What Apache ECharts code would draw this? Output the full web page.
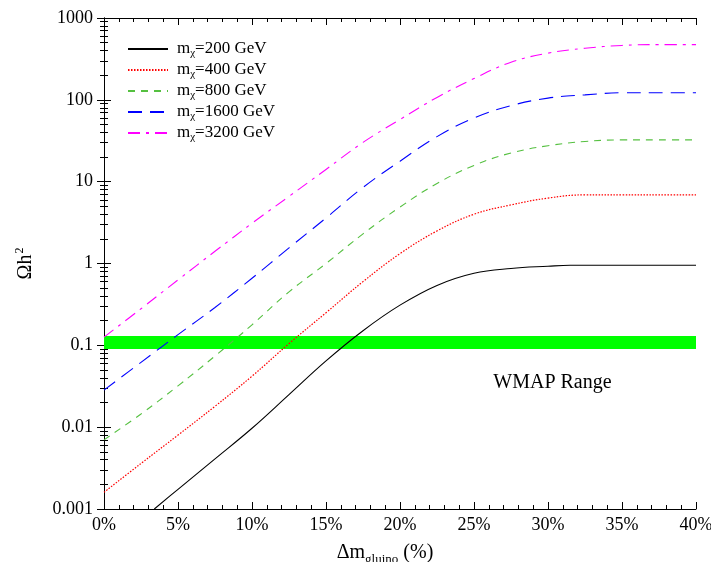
<!DOCTYPE html>
<html><head><meta charset="utf-8">
<script src="https://cdn.jsdelivr.net/npm/echarts@6/dist/echarts.min.js"></script>
<style>html,body{margin:0;padding:0;background:#fff}#c{width:711px;height:562px}</style>
</head><body><div id="c"></div>
<script>
// Δm_gluino (%) sample positions
const pct = [0, 2.5, 5, 7.5, 10, 12.5, 15, 17.5, 20, 22.5, 25, 27.5, 30, 32.5, 35, 37.5, 40];
const pct200 = [3.4, 5, 7.5, 10, 12.5, 15, 17.5, 20, 22.5, 25, 27.5, 30, 31.5, 35, 37.5, 40];
// Ωh² values
const m200 = [0.001, 0.00174, 0.0041, 0.0097, 0.025, 0.0646, 0.151, 0.31, 0.54, 0.76, 0.87, 0.925, 0.95, 0.95, 0.95, 0.95];
const m400 = [0.0016, 0.0036, 0.008, 0.018, 0.042, 0.105, 0.25, 0.6, 1.32, 2.5, 4.0, 5.2, 6.3, 6.9, 6.9, 6.9, 6.9];
const m800 = [0.007, 0.0145, 0.032, 0.074, 0.178, 0.45, 1.0, 2.3, 4.9, 9.5, 15.8, 22.4, 27.5, 31, 32.4, 32.4, 32.4];
const m1600 = [0.0284, 0.062, 0.135, 0.29, 0.66, 1.55, 3.6, 8.5, 17.8, 35.5, 60, 85, 105, 115, 122, 122, 122];
const m3200 = [0.126, 0.28, 0.63, 1.41, 3.1, 6.6, 14.1, 30.2, 57.5, 107, 182, 288, 372, 427, 462, 473, 473];
const seriesNames = ['m{sub|χ}=200 GeV', 'm{sub|χ}=400 GeV', 'm{sub|χ}=800 GeV', 'm{sub|χ}=1600 GeV', 'm{sub|χ}=3200 GeV'];
const wmapBand = [0.09, 0.13];
const wmapLabelPos = [30.3, 0.035];
const wmapLabel = 'WMAP Range';

const FONT = '"Liberation Serif", "Times New Roman", serif';
const pairs = (xs, ys) => xs.map((x, i) => [x, ys[i]]);

const styles = [
  { color: '#000000', type: 'solid', width: 1.1 },
  { color: '#ff0000', type: [1.5, 1.5], width: 1.2 },
  { color: '#55c040', type: [7, 6], width: 1.1 },
  { color: '#0000ff', type: [14, 8], width: 1.1 },
  { color: '#ff00ff', type: [12, 6, 3, 6], width: 1.1 }
];
const datas = [pairs(pct200, m200), pairs(pct, m400), pairs(pct, m800), pairs(pct, m1600), pairs(pct, m3200)];

const lineSeries = datas.map((d, i) => ({
  name: seriesNames[i],
  type: 'line',
  data: d,
  showSymbol: false,
  symbol: 'none',
  smooth: 0.4,
  z: 3,
  lineStyle: { width: styles[i].width, color: styles[i].color, type: styles[i].type },
  itemStyle: { color: styles[i].color }
}));

const axisLineStyle = { lineStyle: { color: '#000', width: 1 } };

const option = {
  animation: false,
  backgroundColor: '#fff',
  grid: { left: 104, right: 15, top: 18, bottom: 53, outerBoundsMode: 'none', containLabel: false },
  legend: {
    orient: 'vertical',
    left: 122, top: 34,
    itemWidth: 40, itemHeight: 14, itemGap: 1,
    data: seriesNames,
    itemStyle: { opacity: 0 },
    textStyle: {
      fontFamily: FONT, fontSize: 17, color: '#000', padding: [0, 0, 0, 4],
      rich: { sub: { fontFamily: FONT, fontSize: 11, padding: [9, 0, 0, 0], lineHeight: 11 } }
    }
  },
  xAxis: [
    {
      type: 'value', min: 0, max: 40, interval: 5, position: 'bottom',
      axisLine: axisLineStyle,
      axisTick: { inside: true, length: 7, lineStyle: { color: '#000' } },
      minorTick: { show: true, splitNumber: 5, length: 4, lineStyle: { color: '#000' } },
      splitLine: { show: false },
      axisLabel: { formatter: '{value}%', fontFamily: FONT, fontSize: 18, color: '#000', margin: 7 },
      name: 'Δm{sub|gluino} (%)',
      nameLocation: 'middle', nameGap: 31,
      nameTextStyle: {
        fontFamily: FONT, fontSize: 20, color: '#000', padding: [0, 30, 0, 0],
        rich: { sub: { fontFamily: FONT, fontSize: 13, lineHeight: 13, padding: [14, 0, 0, 0] } }
      }
    },
    {
      type: 'value', min: 0, max: 40, interval: 5, position: 'top',
      axisLine: axisLineStyle,
      axisTick: { inside: true, length: 7, lineStyle: { color: '#000' } },
      minorTick: { show: true, splitNumber: 5, length: 4, lineStyle: { color: '#000' } },
      splitLine: { show: false },
      axisLabel: { show: false }
    }
  ],
  yAxis: [
    {
      type: 'log', logBase: 10, min: 0.001, max: 1000, splitNumber: 6, position: 'left',
      axisLine: axisLineStyle,
      axisTick: { inside: true, length: 7, lineStyle: { color: '#000' } },
      minorTick: { show: true, splitNumber: 9, length: 4, lineStyle: { color: '#000' } },
      splitLine: { show: false },
      axisLabel: {
        fontFamily: FONT, fontSize: 18, color: '#000', margin: 11,
        formatter: v => String(+Number(v).toPrecision(3))
      },
      name: 'Ωh{sup|2}',
      nameLocation: 'middle', nameGap: 68, nameRotate: 90,
      nameTextStyle: {
        fontFamily: FONT, fontSize: 20, color: '#000',
        rich: { sup: { fontFamily: FONT, fontSize: 12, lineHeight: 12, padding: [0, 0, 12, 1] } }
      }
    },
    {
      type: 'log', logBase: 10, min: 0.001, max: 1000, splitNumber: 6, position: 'right',
      axisLine: axisLineStyle,
      axisTick: { inside: true, length: 7, lineStyle: { color: '#000' } },
      minorTick: { show: true, splitNumber: 9, length: 4, lineStyle: { color: '#000' } },
      splitLine: { show: false },
      axisLabel: { show: false }
    }
  ],
  series: [
    {
      name: 'WMAP', type: 'line', data: [], z: 1, silent: true,
      markArea: {
        silent: true,
        itemStyle: { color: '#00ff00', opacity: 1 },
        data: [[{ yAxis: wmapBand[0] }, { yAxis: wmapBand[1] }]]
      },
      markPoint: {
        silent: true, symbol: 'circle', symbolSize: 0,
        label: { show: true, position: 'inside', formatter: wmapLabel, fontFamily: FONT, fontSize: 20, color: '#000' },
        data: [{ coord: wmapLabelPos }]
      }
    },
    ...lineSeries
  ]
};
const chart = echarts.init(document.getElementById('c'), null, { renderer: 'canvas' });
chart.setOption(option);
</script>
</body></html>
